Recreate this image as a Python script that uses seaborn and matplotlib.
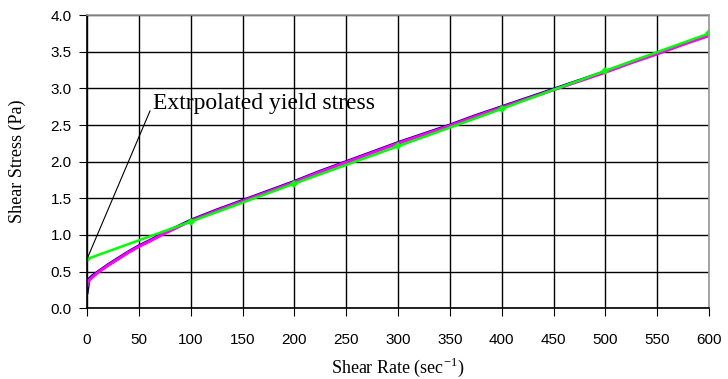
import numpy as np
import pandas as pd
import matplotlib
matplotlib.use("Agg")
import matplotlib.pyplot as plt
import seaborn as sns

# Datos
shear_rate = [0, 2, 5, 10, 20, 30, 40, 50, 60, 75, 100, 125, 150, 175, 200, 225, 250,
              275, 300, 325, 350, 375, 400, 425, 450, 475, 500, 525, 550, 575, 600]
stress_pink = [0.30, 0.38, 0.42, 0.48, 0.58, 0.67, 0.76, 0.84, 0.91, 1.02, 1.19, 1.33,
               1.46, 1.59, 1.72, 1.86, 1.99, 2.12, 2.25, 2.37, 2.49, 2.62, 2.74, 2.86,
               2.98, 3.10, 3.22, 3.35, 3.47, 3.60, 3.72]
stress_blue = [0.20, 0.40, 0.44, 0.49, 0.59, 0.68, 0.77, 0.85, 0.92, 1.03, 1.20, 1.34,
               1.47, 1.60, 1.73, 1.87, 2.00, 2.13, 2.26, 2.38, 2.50, 2.63, 2.75, 2.87,
               2.99, 3.11, 3.23, 3.36, 3.48, 3.61, 3.73]
fit_rate = [0, 100, 200, 300, 400, 500, 600]
fit_stress = [0.67, 1.18, 1.70, 2.21, 2.72, 3.24, 3.75]

df = pd.DataFrame({"rate": shear_rate, "pink": stress_pink, "blue": stress_blue})
fit = pd.DataFrame({"rate": fit_rate, "stress": fit_stress})

sns.set_style("white")
fig = plt.figure(figsize=(7.28, 3.79), dpi=100)
ax = fig.add_axes([0.1195, 0.187, 0.8545, 0.773])

sns.lineplot(data=df, x="rate", y="blue", color="#000080", lw=2.2, ax=ax,
             marker="s", markersize=2, markeredgewidth=0)
sns.lineplot(data=df, x="rate", y="pink", color="#ff00ff", lw=2.2, ax=ax,
             marker="s", markersize=2, markeredgewidth=0)
sns.lineplot(data=fit, x="rate", y="stress", color="#00ff00", lw=1.8, ax=ax,
             marker="D", markersize=4, markeredgewidth=0)

ax.set_xlim(0, 600)
ax.set_ylim(0, 4.0)
ax.set_xticks(np.arange(0, 601, 50))
ax.set_yticks(np.arange(0, 4.01, 0.5))
ax.set_yticklabels([f"{v:.1f}" for v in np.arange(0, 4.01, 0.5)])
ax.grid(True, color="black", lw=1)
ax.set_axisbelow(True)
for s in ax.spines.values():
    s.set_color("#999999")
    s.set_linewidth(1.2)
ax.spines["left"].set_color("black")
ax.spines["bottom"].set_color("black")
ax.tick_params(axis="both", direction="out", length=6, color="black",
               labelsize=11, labelcolor="black", bottom=True, left=True)
ax.tick_params(axis="x", pad=12)
ax.tick_params(axis="y", pad=5)
for lab in ax.get_xticklabels() + ax.get_yticklabels():
    lab.set_family("Liberation Sans")

ax.set_xlabel("Shear Rate (sec$^{\\mathregular{-1}}$)", family="Liberation Serif",
              fontsize=13, labelpad=6, color="black")
ax.set_ylabel("Shear Stress (Pa)", family="Liberation Serif", fontsize=13,
              labelpad=18, color="black")

ax.annotate("Extrpolated yield stress", xy=(0, 0.67), xytext=(64, 2.80),
            family="Liberation Serif", fontsize=17, va="center", ha="left",
            color="black",
            arrowprops=dict(arrowstyle="-", color="black", lw=0.8,
                            shrinkA=0, shrinkB=0, relpos=(0, 0.5)))

fig.savefig("out.png", dpi=100)
